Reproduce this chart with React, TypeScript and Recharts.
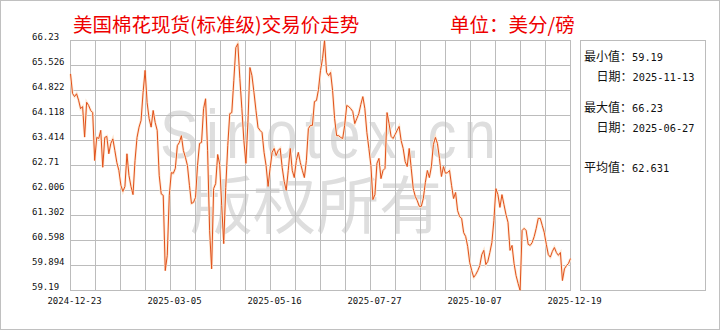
import React from 'react';
import { LineChart, Line, XAxis, YAxis } from 'recharts';

const startDate = '2024-12-23';
const endDate = '2025-12-19';
const holidays = [
  '2024-12-25', '2025-01-01', '2025-01-09', '2025-01-20', '2025-02-17', '2025-04-18',
  '2025-05-26', '2025-06-19', '2025-07-04', '2025-09-01', '2025-11-27',
];

const prices = [
  65.29, 64.74, 64.65, 64.73, 64.55, 64.31, 64.37, 63.51, 64.49, 64.4,
  64.26, 64.2, 62.85, 63.5, 63.47, 63.7, 62.66, 63.5, 63.53, 63.04,
  63.33, 63.46, 63.13, 62.79, 62.57, 62.15, 61.98, 62.12, 63.04, 62.43,
  62.12, 61.89, 62.85, 63.5, 63.79, 63.98, 64.77, 65.39, 64.48, 64.03,
  63.79, 64.26, 63.92, 63.7, 62.43, 61.91, 61.87, 59.75, 60.18, 61.87,
  62.51, 62.49, 62.63, 63.27, 63.36, 63.55, 63.13, 62.94, 62.71, 62.15,
  61.64, 61.67, 61.81, 62.71, 63.33, 63.36, 64.31, 64.59, 63.13, 60.88,
  59.8, 62.06, 62.2, 63.02, 62.74, 61.58, 60.51, 62.09, 63.27, 64.17,
  64.2, 65.1, 66.03, 66.14, 65.16, 64.31, 63.41, 62.77, 63.92, 65.47,
  65.24, 64.77, 64.26, 63.78, 63.7, 63.64, 63.08, 62.71, 62.12, 62.63,
  63.08, 63.19, 62.99, 63.13, 63.19, 62.65, 62.26, 62.01, 62.57, 63.19,
  62.57, 62.37, 62.85, 63.08, 62.79, 62.57, 62.37, 62.85, 63.75, 63.84,
  63.84, 64.51, 64.54, 64.85, 65.39, 65.72, 66.23, 65.33, 65.24, 65.33,
  64.82, 64.03, 63.55, 63.55, 63.5, 63.47, 63.84, 64.4, 64.37, 64.31,
  64.23, 63.89, 64.03, 64.17, 64.43, 64.65, 64.31, 63.64, 63.19, 62.71,
  61.75, 61.89, 62.77, 62.91, 62.34, 62.57, 62.63, 64.2, 63.89, 63.53,
  63.47, 63.58, 63.7, 63.81, 63.41, 63.19, 62.82, 62.68, 63.19, 62.63,
  62.06, 61.84, 61.72, 61.56, 61.56, 61.78, 62.23, 62.57, 62.37, 62.68,
  63.3, 63.5, 63.33, 62.91, 62.4, 62.68, 62.49, 62.51, 62.57, 62.15,
  61.78, 61.95, 61.44, 61.27, 61.22, 60.82, 60.71, 60.43, 59.98, 59.75,
  59.56, 59.64, 59.75, 59.89, 60.2, 60.32, 59.92, 60.01, 60.26, 60.54,
  61.16, 62.06, 61.89, 61.53, 61.89, 61.61, 61.33, 61.11, 60.32, 60.46,
  59.95, 59.61, 59.39, 59.19, 60.88, 60.94, 60.88, 60.49, 60.46, 60.54,
  60.71, 60.94, 61.22, 61.22, 61.02, 60.82, 60.49, 60.2, 60.13, 60.29,
  60.4, 60.26, 60.18, 60.26, 59.47, 59.8, 59.89, 59.95, 60.09,
];

const xTickLabels = ['2024-12-23', '2025-03-05', '2025-05-16', '2025-07-27', '2025-10-07', '2025-12-19'];
const yTicks = [59.19, 59.894, 60.598, 61.302, 62.006, 62.71, 63.414, 64.118, 64.822, 65.526, 66.23];
const verticalGridCount = 20;

const titleText = '美国棉花现货(标准级)交易价走势';
const unitText = '单位：美分/磅';
const statMin = '59.19';
const statMinDate = '2025-11-13';
const statMax = '66.23';
const statMaxDate = '2025-06-27';
const statAvg = '62.631';

function tradingDays(start: string, end: string, skip: string[]): string[] {
  const out: string[] = [];
  const d = new Date(start + 'T00:00:00Z');
  const e = new Date(end + 'T00:00:00Z');
  while (d <= e) {
    const wd = d.getUTCDay();
    const s = d.toISOString().slice(0, 10);
    if (wd !== 0 && wd !== 6 && skip.indexOf(s) < 0) out.push(s);
    d.setUTCDate(d.getUTCDate() + 1);
  }
  return out;
}

const dates = tradingDays(startDate, endDate, holidays);
const data = prices.map((p, i) => ({ i, date: dates[i], price: p }));
const lastIdx = prices.length - 1;
const xTicks = xTickLabels.map((_, k) => (k * lastIdx) / (xTickLabels.length - 1));

const CHART_W = 720;
const CHART_H = 330;
const PLOT = { left: 70, top: 40, width: 500, height: 250 };
const yMin = yTicks[0];
const yMax = yTicks[yTicks.length - 1];

const MONO = "'DejaVu Sans Mono', monospace";
const CJK = "'Noto Sans CJK SC', sans-serif";
const GRID = '#bcbcbc';
const WM = '#dedede';

const YTick = (props: any) => {
  const { y, payload } = props;
  return (
    <text x={32} y={y - 3.5} textAnchor="start" dominantBaseline="central" fontFamily={MONO} fontSize={9} fill="#111">
      {String(payload.value)}
    </text>
  );
};

const XTick = (props: any) => {
  const { x, y, payload } = props;
  const k = Math.round((payload.value / lastIdx) * (xTickLabels.length - 1));
  return (
    <text x={x + 4} y={y + 10} textAnchor="middle" dominantBaseline="central" fontFamily={MONO} fontSize={9} fill="#111">
      {xTickLabels[k]}
    </text>
  );
};

const GridLayer = () => {
  const hs = yTicks.map((v) => Math.round(PLOT.top + PLOT.height * (1 - (v - yMin) / (yMax - yMin))));
  const vs = Array.from({ length: verticalGridCount + 1 }, (_, k) => Math.round(PLOT.left + (k * PLOT.width) / verticalGridCount));
  return (
    <div style={{ position: 'absolute', left: 0, top: 0, width: CHART_W, height: CHART_H, pointerEvents: 'none' }}>
      {hs.map((y, k) => (
        <div
          key={'h' + k}
          style={{ position: 'absolute', left: PLOT.left, top: y, width: PLOT.width + 1, height: 0, borderTop: `1px solid ${GRID}` }}
        />
      ))}
      {vs.map((x, k) => (
        <div
          key={'v' + k}
          style={{ position: 'absolute', left: x, top: PLOT.top, width: 0, height: PLOT.height + 1, borderLeft: `1px solid ${GRID}` }}
        />
      ))}
    </div>
  );
};

const PanelLine = ({ top, left, label, value }: { top: number; left: number; label: string; value: string }) => (
  <div style={{ position: 'absolute', top: top - 6, left, height: 12, lineHeight: '12px', whiteSpace: 'nowrap', color: '#111' }}>
    <span style={{ fontFamily: CJK, fontSize: 12 }}>{label}</span>
    <span style={{ fontFamily: MONO, fontSize: 10.3 }}>{value}</span>
  </div>
);

const WM_SCALE = 0.85;

export default function App() {
  return (
    <div
      style={{
        position: 'absolute',
        left: 0,
        top: 0,
        width: CHART_W,
        height: CHART_H,
        boxSizing: 'border-box',
        border: '1px solid #c0c0c0',
        background: '#fff',
        overflow: 'hidden',
      }}
    >
      <div style={{ position: 'absolute', left: -1, top: -1, width: CHART_W, height: CHART_H }}>
        <svg width={CHART_W} height={CHART_H} style={{ position: 'absolute', left: 0, top: 0 }}>
          <g transform={`scale(${WM_SCALE},1)`}>
            <text
              x={160 / WM_SCALE}
              y={158}
              fontFamily="'Liberation Sans', sans-serif"
              fontSize={68}
              fill={WM}
              textLength={336 / WM_SCALE}
              lengthAdjust="spacing"
            >
              Sinotex.cn
            </text>
          </g>
          <text x={190} y={200} dominantBaseline="central" fontFamily={CJK} fontSize={63} fill={WM} textLength={252} lengthAdjust="spacing">
            版权所有
          </text>
        </svg>
        <GridLayer />
        <div style={{ position: 'absolute', left: 0, top: 0 }}>
          <LineChart
            width={CHART_W}
            height={CHART_H}
            data={data}
            margin={{ top: PLOT.top + 0.5, right: CHART_W - PLOT.left - PLOT.width - 0.5, bottom: 0, left: 0.5 }}
          >
            <XAxis
              dataKey="i"
              type="number"
              domain={[0, lastIdx]}
              ticks={xTicks}
              interval={0}
              height={CHART_H - PLOT.top - PLOT.height - 0.5}
              axisLine={false}
              tickLine={false}
              tickSize={0}
              tickMargin={0}
              tick={<XTick />}
            />
            <YAxis
              type="number"
              domain={[yMin, yMax]}
              ticks={yTicks}
              interval={0}
              width={PLOT.left}
              axisLine={false}
              tickLine={false}
              tickSize={0}
              tickMargin={0}
              allowDataOverflow
              tick={<YTick />}
            />
            <Line type="linear" dataKey="price" stroke="#fde8d4" strokeWidth={2.6} dot={false} activeDot={false} isAnimationActive={false} />
            <Line type="linear" dataKey="price" stroke="#e0501a" strokeWidth={1} dot={false} activeDot={false} isAnimationActive={false} />
          </LineChart>
        </div>
        <div style={{ position: 'absolute', left: 73, top: 14, fontFamily: CJK, fontSize: 19.5, lineHeight: '20px', color: '#ee0000', whiteSpace: 'nowrap' }}>
          {titleText}
        </div>
        <div style={{ position: 'absolute', left: 450, top: 14, fontFamily: CJK, fontSize: 19.5, lineHeight: '20px', color: '#ee0000', whiteSpace: 'nowrap' }}>
          {unitText}
        </div>
        <div style={{ position: 'absolute', left: 580, top: 40, width: 126, height: 251, boxSizing: 'border-box', border: `1px solid ${GRID}` }} />
        <PanelLine top={55.7} left={584} label="最小值：" value={statMin} />
        <PanelLine top={75.7} left={596.5} label="日期：" value={statMinDate} />
        <PanelLine top={106.7} left={584} label="最大值：" value={statMax} />
        <PanelLine top={126.7} left={596.5} label="日期：" value={statMaxDate} />
        <PanelLine top={166.7} left={584} label="平均值：" value={statAvg} />
      </div>
    </div>
  );
}
